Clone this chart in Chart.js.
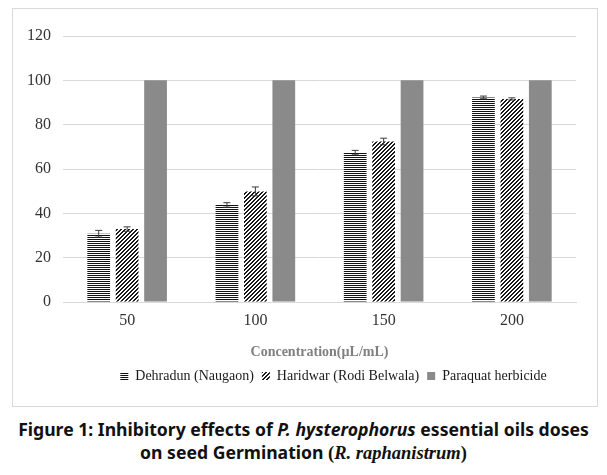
<!DOCTYPE html>
<html>
<head>
<meta charset="utf-8">
<script src="https://cdn.jsdelivr.net/npm/chart.js@4.4.1/dist/chart.umd.min.js"></script>
<style>
  body { margin: 0; background: #fff; width: 607px; height: 475px; overflow: hidden; }
  .chart-box { position: absolute; left: 12px; top: 8px; width: 584px; height: 397px; border: 1px solid #d9d9d9; }
  .caption { position: absolute; left: 0; top: 418px; width: 607px; text-align: center;
    font-family: "Noto Sans", sans-serif; font-weight: bold; font-size: 17.6px; line-height: 23px; color: #111; }
  .caption .serif { font-family: "Liberation Serif", serif; font-size: 18.5px; }
</style>
</head>
<body>
<div class="chart-box"><canvas id="germ-chart" width="584" height="397"></canvas></div>
<div class="caption">
  Figure 1: Inhibitory effects of <i>P. hysterophorus</i> essential oils doses<br>
  on seed Germination <span class="serif">(<i>R. raphanistrum</i>)</span>
</div>
<script>
const concentrations = ['50', '100', '150', '200'];
const dehradun = [30.8, 43.8, 67.4, 92.3];
const dehradunErr = [1.5, 1, 1, 0.6];
const haridwar = [32.9, 49.9, 72.4, 91.6];
const haridwarErr = [1, 2, 1.5, 0.5];
const paraquat = [100, 100, 100, 100];
const yTicks = [0, 20, 40, 60, 80, 100, 120];

const serif = 'Liberation Serif';

function stripePattern() {
  const c = document.createElement('canvas');
  c.width = 2; c.height = 2;
  const g = c.getContext('2d');
  g.fillStyle = '#fff';
  g.fillRect(0, 0, 2, 2);
  g.fillStyle = '#111';
  g.fillRect(0, 0, 2, 1);
  return g.createPattern(c, 'repeat');
}

function hatchPattern() {
  const c = document.createElement('canvas');
  c.width = 4; c.height = 4;
  const g = c.getContext('2d');
  g.fillStyle = '#fff';
  g.fillRect(0, 0, 4, 4);
  g.fillStyle = '#1a1a1a';
  // upward diagonal "/" lines
  for (let i = 0; i < 4; i++) {
    g.fillRect((3 - i) % 4, i, 1, 1);
    g.fillRect((4 - i) % 4, i, 1, 1);
  }
  return g.createPattern(c, 'repeat');
}

const errorBars = {
  id: 'errorBars',
  afterDatasetsDraw(chart) {
    const ctx = chart.ctx;
    const y = chart.scales.y;
    chart.data.datasets.forEach((ds, di) => {
      if (!ds.errors) return;
      const meta = chart.getDatasetMeta(di);
      meta.data.forEach((bar, i) => {
        const v = ds.data[i];
        const e = ds.errors[i];
        const top = y.getPixelForValue(v + e);
        const bot = y.getPixelForValue(v - e);
        ctx.save();
        ctx.strokeStyle = '#3c3c3c';
        ctx.lineWidth = 1;
        ctx.beginPath();
        ctx.moveTo(bar.x, top); ctx.lineTo(bar.x, bot);
        ctx.moveTo(bar.x - 3.5, top); ctx.lineTo(bar.x + 3.5, top);
        ctx.moveTo(bar.x - 3.5, bot); ctx.lineTo(bar.x + 3.5, bot);
        ctx.stroke();
        ctx.restore();
      });
    });
  }
};

// excel puts the legend a bit right of centre
const legendShift = {
  id: 'legendShift',
  afterLayout(chart) {
    chart.legend.left += 39;
    chart.legend.right += 39;
  }
};

const ctx = document.getElementById('germ-chart').getContext('2d');

new Chart(ctx, {
  type: 'bar',
  data: {
    labels: concentrations,
    datasets: [
      { label: 'Dehradun (Naugaon)', data: dehradun, errors: dehradunErr, backgroundColor: stripePattern() },
      { label: 'Haridwar (Rodi Belwala)', data: haridwar, errors: haridwarErr, backgroundColor: hatchPattern() },
      { label: 'Paraquat herbicide', data: paraquat, backgroundColor: '#8a8a8a' }
    ]
  },
  options: {
    responsive: false,
    animation: false,
    devicePixelRatio: 1,
    categoryPercentage: 0.665,
    barPercentage: 0.8,
    layout: { padding: { top: 27, right: 21, bottom: 13, left: 0 } },
    plugins: {
      tooltip: { enabled: false },
      legend: {
        position: 'bottom',
        labels: {
          boxWidth: 8,
          boxHeight: 8,
          padding: 8,
          color: '#1a1a1a',
          font: { family: serif, size: 14 }
        }
      }
    },
    scales: {
      x: {
        grid: { display: false, drawTicks: false },
        border: { color: '#d9d9d9' },
        ticks: { color: '#333', padding: 9, font: { family: serif, size: 16 } },
        title: {
          display: true,
          text: 'Concentration(µL/mL)',
          color: '#808080',
          padding: { top: 5, bottom: 0 },
          font: { family: serif, size: 14, weight: 'bold' }
        }
      },
      y: {
        min: 0,
        max: 120,
        afterFit(scale) { scale.width = 50; },
        afterBuildTicks(scale) { scale.ticks = yTicks.map(v => ({ value: v })); },
        grid: { color: '#d9d9d9', drawTicks: false },
        border: { display: false },
        ticks: { color: '#333', padding: 12, font: { family: serif, size: 16 } }
      }
    }
  },
  plugins: [errorBars, legendShift]
});
</script>
</body>
</html>
